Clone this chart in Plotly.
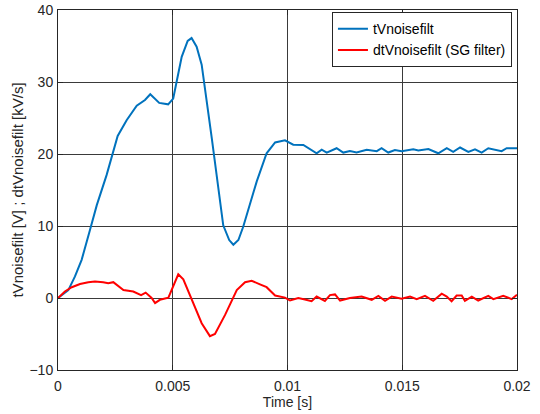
import plotly.graph_objects as go

# tVnoisefilt (blue) time [s] and value [V]
t_blue = [0.0, 0.00045, 0.00074, 0.00103, 0.00139, 0.00169, 0.00212, 0.0026, 0.00299, 0.00343,
          0.00379, 0.00402, 0.00441, 0.0048, 0.00502, 0.00539, 0.00565, 0.00582, 0.00604, 0.00626,
          0.0067, 0.00706, 0.0072, 0.00746, 0.00764, 0.00786, 0.00807, 0.00866, 0.00909, 0.00946,
          0.00967, 0.00989, 0.01025, 0.01069, 0.01127, 0.01149, 0.01171, 0.01214, 0.01243, 0.01272,
          0.01301, 0.01345, 0.01389, 0.0141, 0.01439, 0.01468, 0.01497, 0.01548, 0.0157, 0.01614,
          0.01657, 0.01694, 0.01722, 0.01752, 0.01788, 0.01817, 0.01846, 0.01875, 0.01933, 0.01955, 0.02]
v_blue = [0.0, 1.1, 3.0, 5.3, 9.4, 12.9, 17.1, 22.5, 24.7, 26.7,
          27.5, 28.3, 27.1, 26.9, 27.7, 33.5, 35.7, 36.1, 34.9, 32.4,
          22.2, 12.9, 10.1, 8.05, 7.4, 8.05, 9.9, 16.2, 20.1, 21.6,
          21.7, 21.9, 21.3, 21.25, 20.1, 20.6, 20.2, 20.8, 20.2, 20.4,
          20.2, 20.6, 20.4, 20.8, 20.2, 20.55, 20.4, 20.65, 20.5, 20.7,
          20.1, 20.8, 20.3, 20.9, 20.3, 20.65, 20.2, 20.8, 20.4, 20.8, 20.8]

# dtVnoisefilt (red) time [s] and value [kV/s]
t_red = [0.0, 0.0003, 0.0006, 0.00096, 0.00132, 0.00161, 0.00197, 0.00219, 0.00241, 0.00285,
         0.00328, 0.00362, 0.00382, 0.00408, 0.00423, 0.00444, 0.00481, 0.00524, 0.00546, 0.00582,
         0.00626, 0.00662, 0.00684, 0.00728, 0.00779, 0.00815, 0.00844, 0.0088, 0.00909, 0.00946,
         0.00989, 0.01011, 0.01047, 0.01076, 0.01105, 0.01127, 0.01163, 0.01185, 0.01207, 0.01229,
         0.01272, 0.01323, 0.01367, 0.01396, 0.01425, 0.01454, 0.01497, 0.01534, 0.01563, 0.01599,
         0.01635, 0.01672, 0.01694, 0.01715, 0.01737, 0.01759, 0.01773, 0.01803, 0.01831, 0.01875,
         0.01897, 0.0194, 0.01977, 0.02]
v_red = [0.0, 0.9, 1.5, 1.95, 2.2, 2.3, 2.2, 2.05, 2.2, 1.1,
         0.9, 0.4, 0.75, 0.0, -0.7, -0.25, 0.05, 3.3, 2.6, -0.25,
         -3.5, -5.3, -5.0, -2.35, 1.1, 2.2, 2.4, 1.9, 1.5, 0.35,
         0.05, -0.35, 0.0, -0.2, -0.45, 0.2, -0.4, 0.4, 0.5, -0.35,
         0.0, 0.2, -0.25, 0.3, -0.4, 0.2, -0.1, 0.2, -0.15, 0.3,
         -0.4, 0.6, 0.2, -0.45, 0.35, 0.35, -0.4, 0.2, -0.35, 0.3,
         -0.15, 0.3, -0.15, 0.45]

x_ticks = [0, 0.005, 0.01, 0.015, 0.02]
x_ticklabels = ["0", "0.005", "0.01", "0.015", "0.02"]
y_ticks = [-10, 0, 10, 20, 30, 40]

FONT = "Liberation Sans"
TXT = "#262626"

fig = go.Figure()
fig.add_trace(go.Scatter(x=t_blue, y=v_blue, mode="lines", name="tVnoisefilt",
                         line=dict(color="#0072BD", width=2)))
fig.add_trace(go.Scatter(x=t_red, y=v_red, mode="lines", name="dtVnoisefilt (SG filter)",
                         line=dict(color="#FF0000", width=2)))

axis_common = dict(showline=True, linecolor=TXT, linewidth=1, mirror="allticks",
                   ticks="inside", ticklen=5, tickcolor=TXT,
                   showgrid=True, gridcolor="#3a3a3a", gridwidth=1, zeroline=False,
                   automargin=False,
                   tickfont=dict(family=FONT, size=14, color=TXT))

fig.update_xaxes(range=[0, 0.02], tickvals=x_ticks, ticktext=x_ticklabels,
                 ticklabelstandoff=3,
                 title=dict(text="Time [s]", font=dict(family=FONT, size=14, color=TXT), standoff=1),
                 **axis_common)
fig.update_yaxes(range=[-10, 40], tickvals=y_ticks,
                 ticklabelstandoff=1,
                 title=dict(text="tVnoisefilt [V] ; dtVnoisefilt [kV/s]",
                            font=dict(family=FONT, size=15, color=TXT), standoff=2),
                 **axis_common)

fig.update_layout(
    width=540, height=414,
    margin=dict(l=58, r=23, t=10, b=44),
    paper_bgcolor="white", plot_bgcolor="white",
    font=dict(family=FONT, size=14, color=TXT),
    legend=dict(x=0.989, y=0.994, xanchor="right", yanchor="top",
                bgcolor="white", bordercolor=TXT, borderwidth=1,
                font=dict(family=FONT, size=14, color="#000000"),
                itemwidth=30, tracegroupgap=0),
    showlegend=True,
)

fig.write_html("out.html", config={"displayModeBar": False},
               post_script="document.body.style.margin='0';")
